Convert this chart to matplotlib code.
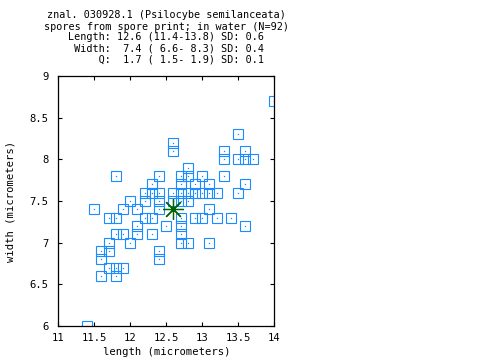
import matplotlib
matplotlib.use('Agg')
import matplotlib.pyplot as plt

plt.rcParams['font.family'] = ['DejaVu Sans Mono']

length = [14.0,
          13.5,
          12.6,
          12.6, 13.3, 13.6,
          13.3, 13.5, 13.6, 13.7,
          12.8,
          11.8, 12.4, 12.7, 12.8, 13.0, 13.3,
          12.3, 12.7, 12.9, 13.1, 13.6,
          12.2, 12.3, 12.4, 12.6, 12.7, 12.8, 12.9, 13.0, 13.1, 13.2, 13.5,
          12.0, 12.2, 12.4, 12.6, 12.7, 12.8,
          11.5, 11.9, 12.1, 12.4, 13.1,
          11.7, 11.8, 12.2, 12.3, 12.7, 12.9, 13.0, 13.2, 13.4,
          12.1, 12.5, 12.7, 13.6,
          11.8, 11.9, 12.1, 12.3, 12.7,
          11.7, 12.0, 12.7, 12.8, 13.1,
          11.6, 11.7, 12.4,
          11.6, 12.4,
          11.7, 11.8, 11.9,
          11.6, 11.8,
          11.4]
width = [8.7,
         8.3,
         8.2,
         8.1, 8.1, 8.1,
         8.0, 8.0, 8.0, 8.0,
         7.9,
         7.8, 7.8, 7.8, 7.8, 7.8, 7.8,
         7.7, 7.7, 7.7, 7.7, 7.7,
         7.6, 7.6, 7.6, 7.6, 7.6, 7.6, 7.6, 7.6, 7.6, 7.6, 7.6,
         7.5, 7.5, 7.5, 7.5, 7.5, 7.5,
         7.4, 7.4, 7.4, 7.4, 7.4,
         7.3, 7.3, 7.3, 7.3, 7.3, 7.3, 7.3, 7.3, 7.3,
         7.2, 7.2, 7.2, 7.2,
         7.1, 7.1, 7.1, 7.1, 7.1,
         7.0, 7.0, 7.0, 7.0, 7.0,
         6.9, 6.9, 6.9,
         6.8, 6.8,
         6.7, 6.7, 6.7,
         6.6, 6.6,
         6.0]
mean_length = [12.6]
mean_width = [7.4]

title_lines = ["znal. 030928.1 (Psilocybe semilanceata)",
               "spores from spore print; in water (N=92)",
               "Length: 12.6 (11.4-13.8) SD: 0.6",
               " Width:  7.4 ( 6.6- 8.3) SD: 0.4",
               "     Q:  1.7 ( 1.5- 1.9) SD: 0.1"]
xticks = [11, 11.5, 12, 12.5, 13, 13.5, 14]
xticklabels = ["11", "11.5", "12", "12.5", "13", "13.5", "14"]
yticks = [6, 6.5, 7, 7.5, 8, 8.5, 9]
yticklabels = ["6", "6.5", "7", "7.5", "8", "8.5", "9"]

W, H = 480, 360
fs_title = 7.3
fs = 7.6
fig = plt.figure(figsize=(4.8, 3.6), dpi=100)
ax = fig.add_axes([58.3 / W, (H - 326) / H, 216 / W, 250 / H])

blue = '#1a8cff'
ax.plot(length, width, ls='none', marker='s', ms=7.2, mfc='none',
        mec=blue, mew=0.8)
ax.plot(length, width, ls='none', marker='s', ms=0.9, mfc=blue,
        mec='none')
ax.plot(mean_length, mean_width, ls='none', marker=(8, 2, 0), ms=15,
        color='#006400', mew=0.9)

ax.set_xlim(11, 14)
ax.set_ylim(6, 9)
ax.set_xticks(xticks)
ax.set_xticklabels(xticklabels)
ax.set_yticks(yticks)
ax.set_yticklabels(yticklabels)
ax.tick_params(direction='in', top=True, right=True, length=3, width=0.8,
               labelsize=fs)
ax.tick_params(axis='x', pad=5)
ax.tick_params(axis='y', pad=7)
for s in ax.spines.values():
    s.set_linewidth(0.9)

ax.set_xlabel("length (micrometers)", fontsize=fs, labelpad=3)
ax.set_ylabel("width (micrometers)", fontsize=fs, labelpad=10)

ys = [15.5, 26.5, 37.5, 48.5, 59.5]
for line, y in zip(title_lines, ys):
    fig.text(166.3 / W, 1 - y / H, line, ha='center', va='center',
             fontsize=fs_title)

fig.savefig('out.png', dpi=100)
